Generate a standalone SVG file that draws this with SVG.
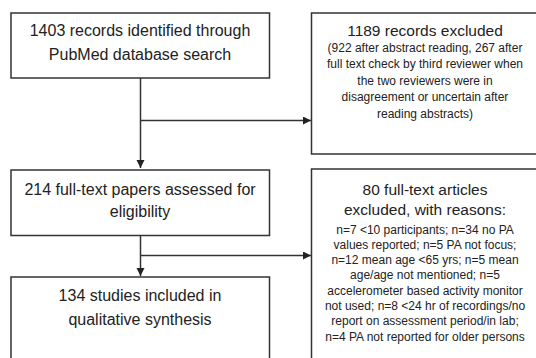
<svg xmlns="http://www.w3.org/2000/svg" width="536" height="358" viewBox="0 0 536 358">
<style>
.box{fill:#fff;stroke:#333;stroke-width:1.5}
.t{font-family:"Liberation Sans",Arial,sans-serif;fill:#222;text-anchor:middle}
.l{font-size:16px}
.r{font-size:15.5px}
.s{font-size:12px}
.c{stroke:#333;stroke-width:1.5;fill:none}
</style>
<defs>
<marker id="ah" markerWidth="10" markerHeight="10" refX="8" refY="4" orient="auto" markerUnits="userSpaceOnUse">
<path d="M0,0 L8,4 L0,8 Z" fill="#222"/>
</marker>
</defs>
<rect width="536" height="358" fill="#fff"/>
<g id="connectors">
<line class="c" x1="140.5" y1="78" x2="140.5" y2="168" marker-end="url(#ah)"/>
<line class="c" x1="140.5" y1="120.5" x2="311" y2="120.5" marker-end="url(#ah)"/>
<line class="c" x1="140.5" y1="235.5" x2="140.5" y2="276" marker-end="url(#ah)"/>
<line class="c" x1="140.5" y1="255.5" x2="311" y2="255.5" marker-end="url(#ah)"/>
</g>
<g id="identified">
<rect class="box" x="11" y="13" width="258.5" height="65"/>
<text class="t l" x="140" y="36">1403 records identified through</text>
<text class="t l" x="140" y="60">PubMed database search</text>
</g>
<g id="excluded1">
<rect class="box" x="311.5" y="13" width="240" height="141"/>
<text class="t r" x="425" y="35.5">1189 records excluded</text>
<text class="t s" x="425" y="52">(922 after abstract reading, 267 after</text>
<text class="t s" x="425" y="68.4">full text check by third reviewer when</text>
<text class="t s" x="425" y="84.8">the two reviewers were in</text>
<text class="t s" x="425" y="101.2">disagreement or uncertain after</text>
<text class="t s" x="425" y="117.6">reading abstracts)</text>
</g>
<g id="assessed">
<rect class="box" x="11" y="170" width="258.5" height="65.5"/>
<text class="t l" x="140" y="194.5">214 full-text papers assessed for</text>
<text class="t l" x="140" y="216.5">eligibility</text>
</g>
<g id="excluded2">
<rect class="box" x="311.5" y="169" width="240" height="200"/>
<text class="t r" x="425" y="194.5">80 full-text articles</text>
<text class="t r" x="425" y="215">excluded, with reasons:</text>
<text class="t s" x="425" y="233.5">n=7 &lt;10 participants; n=34 no PA</text>
<text class="t s" x="425" y="248.8">values reported; n=5 PA not focus;</text>
<text class="t s" x="425" y="264.1">n=12 mean age &lt;65 yrs; n=5 mean</text>
<text class="t s" x="425" y="279.4">age/age not mentioned; n=5</text>
<text class="t s" x="425" y="294.7">accelerometer based activity monitor</text>
<text class="t s" x="425" y="310">not used; n=8 &lt;24 hr of recordings/no</text>
<text class="t s" x="425" y="325.3">report on assessment period/in lab;</text>
<text class="t s" x="425" y="340.6">n=4 PA not reported for older persons</text>
</g>
<g id="included">
<rect class="box" x="11" y="277" width="258.5" height="100"/>
<text class="t l" x="140" y="301">134 studies included in</text>
<text class="t l" x="140" y="325">qualitative synthesis</text>
</g>
</svg>
